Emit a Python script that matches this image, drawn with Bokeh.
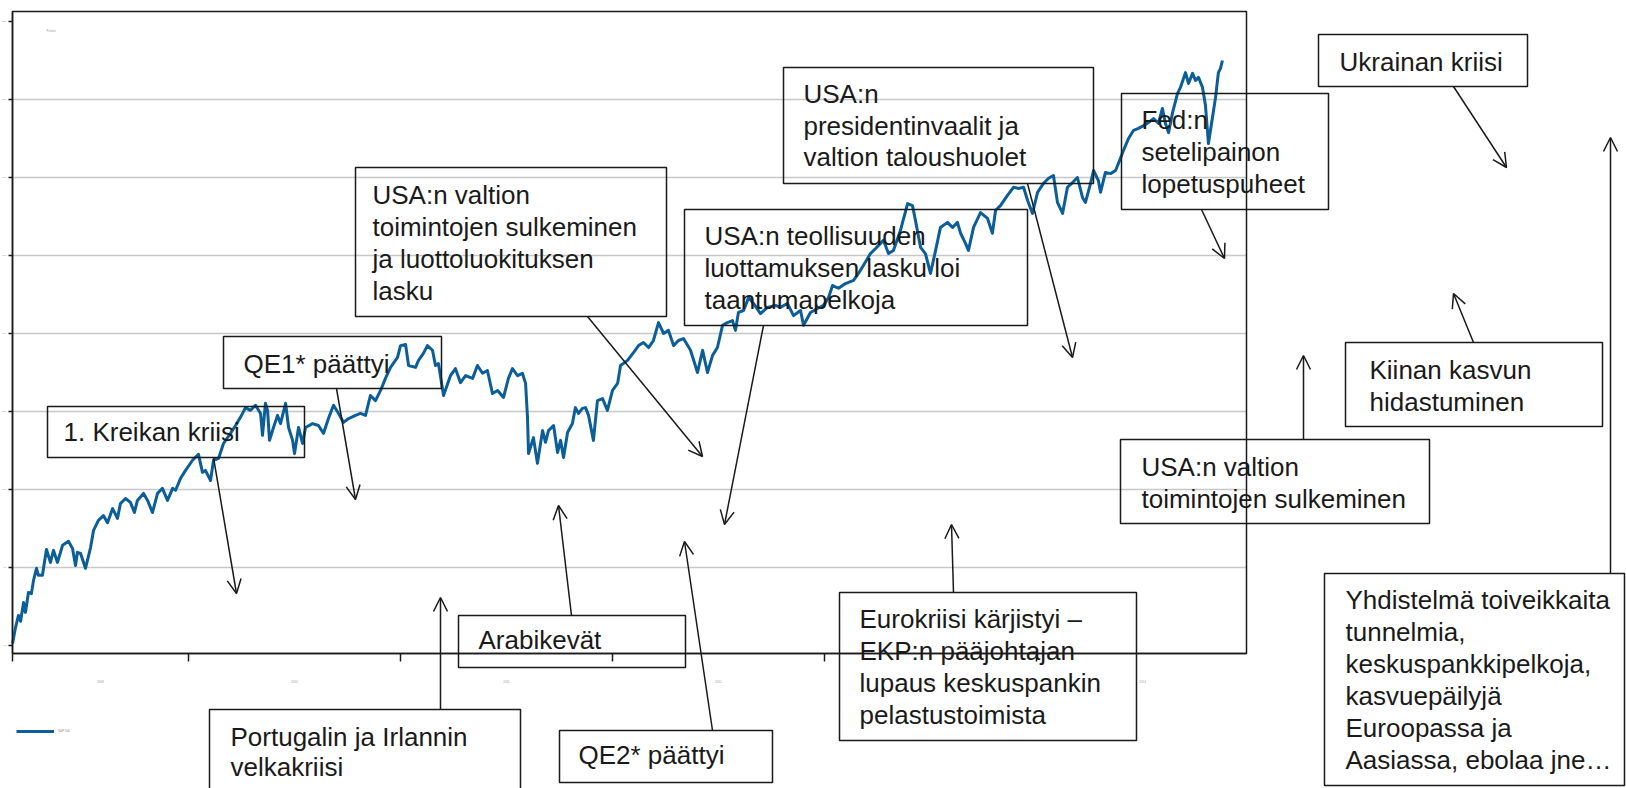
from bokeh.plotting import figure
from bokeh.models import (Range1d, FixedTicker, Label, Arrow, OpenHead, PolyAnnotation,
                          Legend, LegendItem, LinearAxis, Grid)
from bokeh.embed import file_html
from bokeh.resources import INLINE

# ---------------- data (decimal year, index level) ----------------
years = [
    2009.170, 2009.184, 2009.198, 2009.208, 2009.222, 2009.231, 2009.245, 2009.259, 2009.269, 2009.283,
    2009.292, 2009.311, 2009.330, 2009.349, 2009.363, 2009.382, 2009.406, 2009.434, 2009.453, 2009.467,
    2009.476, 2009.491, 2009.514, 2009.538, 2009.552, 2009.575, 2009.599, 2009.618, 2009.642, 2009.665,
    2009.679, 2009.703, 2009.726, 2009.745, 2009.759, 2009.788, 2009.807, 2009.830, 2009.854, 2009.877,
    2009.901, 2009.925, 2009.939, 2009.962, 2009.986, 2010.019, 2010.047, 2010.066, 2010.080, 2010.104,
    2010.118, 2010.142, 2010.165, 2010.198, 2010.222, 2010.245, 2010.269, 2010.292, 2010.316, 2010.340,
    2010.349, 2010.363, 2010.373, 2010.382, 2010.401, 2010.420, 2010.434, 2010.458, 2010.472, 2010.491,
    2010.500, 2010.519, 2010.538, 2010.552, 2010.585, 2010.613, 2010.637, 2010.660, 2010.684, 2010.708,
    2010.731, 2010.755, 2010.788, 2010.811, 2010.835, 2010.858, 2010.882, 2010.906, 2010.929, 2010.953,
    2010.986,
    2011.000, 2011.024, 2011.038, 2011.071, 2011.085, 2011.108, 2011.127, 2011.151, 2011.165, 2011.179,
    2011.203, 2011.236, 2011.259, 2011.283, 2011.307, 2011.340, 2011.363, 2011.387, 2011.410, 2011.434,
    2011.458, 2011.486, 2011.509, 2011.528, 2011.552, 2011.575, 2011.590, 2011.599, 2011.604, 2011.627,
    2011.646, 2011.670, 2011.684, 2011.698, 2011.722, 2011.741, 2011.755, 2011.769, 2011.788, 2011.811,
    2011.825, 2011.840, 2011.858, 2011.873, 2011.887, 2011.910, 2011.929, 2011.953, 2011.976, 2012.000,
    2012.024, 2012.038, 2012.071, 2012.099, 2012.123, 2012.146, 2012.170, 2012.193, 2012.217, 2012.241,
    2012.264, 2012.288, 2012.311, 2012.335, 2012.368, 2012.401, 2012.425, 2012.448, 2012.472, 2012.495,
    2012.519, 2012.542, 2012.566, 2012.580, 2012.594, 2012.618, 2012.642, 2012.665, 2012.698,
    2012.731, 2012.769, 2012.792, 2012.825, 2012.854, 2012.887, 2012.901, 2012.934, 2012.967, 2012.995,
    2013.019, 2013.038, 2013.066, 2013.099, 2013.137, 2013.160, 2013.184, 2013.217, 2013.241, 2013.255,
    2013.278, 2013.302, 2013.325, 2013.358, 2013.392, 2013.415, 2013.429, 2013.453, 2013.476, 2013.500,
    2013.524, 2013.547, 2013.580, 2013.604, 2013.627, 2013.642, 2013.665, 2013.679, 2013.703, 2013.736,
    2013.769, 2013.792, 2013.807, 2013.830, 2013.863, 2013.892, 2013.915, 2013.939, 2013.958, 2013.981,
    2014.005, 2014.033, 2014.057, 2014.080, 2014.099, 2014.123, 2014.146, 2014.170, 2014.193, 2014.217,
    2014.231, 2014.255, 2014.269, 2014.292, 2014.302, 2014.325, 2014.349, 2014.373, 2014.396, 2014.410,
    2014.434, 2014.458, 2014.481, 2014.505, 2014.528, 2014.552, 2014.575, 2014.594, 2014.608, 2014.623,
    2014.642, 2014.665, 2014.679, 2014.703, 2014.717, 2014.736, 2014.750, 2014.764, 2014.783, 2014.797,
    2014.811, 2014.830, 2014.844, 2014.858, 2014.868, 2014.877,
]

index_level = [
    605, 646, 677, 662, 710, 685, 736, 733, 767, 798,
    780, 780, 846, 813, 844, 813, 857, 867, 849, 805,
    839, 836, 798, 851, 895, 921, 933, 915, 951, 926,
    964, 977, 967, 941, 972, 990, 972, 941, 990, 1003,
    972, 1003, 998, 1028, 1049, 1075, 1090, 1044, 1049, 1023,
    1075, 1080, 1118, 1144, 1164, 1185, 1210, 1203, 1216, 1195,
    1139, 1221, 1203, 1126, 1159, 1190, 1169, 1221, 1159, 1126,
    1092, 1159, 1118, 1159, 1169, 1164, 1144, 1182, 1216, 1195,
    1172, 1182, 1190, 1195, 1190, 1241, 1228, 1254, 1285, 1313,
    1339,
    1369, 1372, 1318, 1313, 1331, 1349, 1369, 1357, 1318, 1323,
    1241, 1292, 1310, 1274, 1292, 1285, 1318, 1298, 1305, 1246,
    1254, 1236, 1285, 1310, 1292, 1298, 1272, 1185, 1092, 1133,
    1067, 1151, 1121, 1151, 1164, 1095, 1126, 1082, 1146, 1169,
    1210, 1195, 1208, 1210, 1190, 1126, 1228, 1233, 1203, 1254,
    1272, 1318, 1331, 1351, 1369, 1377, 1364, 1382, 1428, 1400,
    1408, 1369, 1382, 1387, 1357, 1300, 1357, 1300, 1344, 1364,
    1421, 1428, 1433, 1408, 1454, 1459, 1492, 1477, 1451,
    1467, 1472, 1467, 1477, 1446, 1459, 1421, 1454, 1464, 1472,
    1492, 1523, 1516, 1528, 1536, 1554, 1575, 1605, 1618, 1626,
    1639, 1605, 1613, 1664, 1733, 1728, 1690, 1621, 1605, 1554,
    1613, 1672, 1685, 1672, 1685, 1657, 1631, 1613, 1672, 1710,
    1695, 1657, 1716, 1728, 1754, 1775, 1772, 1775, 1741, 1708,
    1762, 1785, 1798, 1805, 1736, 1708, 1775, 1787, 1800, 1749,
    1736, 1785, 1818, 1792, 1762, 1813, 1810, 1818, 1849, 1869,
    1900, 1921, 1926, 1933, 1941, 1951, 1939, 1977, 1939, 1915,
    1967, 2015, 2031, 2069, 2041, 2067, 2049, 2057, 2031, 1985,
    1887, 1954, 2003, 2069, 2080, 2100,
]

y_ticks = [600, 800, 1000, 1200, 1400, 1600, 1800, 2000, 2200]
grid_ticks = [800, 1000, 1200, 1400, 1600, 1800, 2000]
year_labels = ["2009", "2010", "2011", "2012", "2013", "2014"]
year_label_pos = [2009.585, 2010.5, 2011.5, 2012.5, 2013.5, 2014.5]
year_bounds = [2009.17, 2010, 2011, 2012, 2013, 2014]
series_name = "S&P 500"

# ---------------- pixel -> data helpers (annotation layout only) ----------------
def X(px):
    return 2010 + (px - 188) / 212.0

def Y(py):
    return 600 + (645 - py) * 200 / 78.0

INK = "#1a1a1a"
BLUE = "#0B5E98"
FONT = "Liberation Sans"
BASE_FIX = 9   # renderer places alphabetic baseline slightly low

# plot area (axes box) of the chart inside the canvas
PL, PR, PT, PB = 12, 1246, 11, 653

p = figure(width=1626, height=788,
           x_range=Range1d(X(0), X(1626)), y_range=Range1d(Y(788), Y(0)),
           output_backend="svg", toolbar_location=None,
           x_axis_location=None, y_axis_location=None, min_border=0)
p.background_fill_color = "white"
p.border_fill_color = "white"
p.outline_line_color = None
for g in list(p.center):
    if isinstance(g, Grid):
        g.visible = False

# horizontal grid lines inside the plot area
grid_kwargs = dict(dimension=1, ticker=FixedTicker(ticks=grid_ticks),
                   grid_line_color="#C8C8C8", grid_line_width=1.5)
if "cross_bounds" in Grid.properties():
    p.add_layout(Grid(cross_bounds=(X(PL), X(PR)), **grid_kwargs))
else:
    p.segment(x0=[X(PL)] * len(grid_ticks), x1=[X(PR)] * len(grid_ticks),
              y0=grid_ticks, y1=grid_ticks, line_color="#C8C8C8", line_width=1.5)

# plot-area border
p.add_layout(PolyAnnotation(xs=[X(PL), X(PR), X(PR), X(PL)], ys=[Y(PT), Y(PT), Y(PB), Y(PB)],
                            fill_color=None, fill_alpha=0, line_color=INK, line_alpha=1,
                            line_width=1.5, level="underlay"))

# value axis
yax = LinearAxis(fixed_location=X(PL), bounds=(Y(PB), Y(PT)), ticker=FixedTicker(ticks=y_ticks))
yax.major_tick_out = 4
yax.major_tick_in = 0
yax.minor_tick_out = 0
yax.minor_tick_in = 0
yax.major_label_text_font_size = "2px"
yax.major_label_standoff = 2
yax.major_label_text_color = "#999999"
yax.axis_line_color = INK
yax.axis_line_width = 1.5
yax.major_tick_line_color = INK
yax.major_tick_line_width = 1.5
p.add_layout(yax, "left")

# time axis
xax = LinearAxis(fixed_location=Y(PB), bounds=(X(PL), X(PR)),
                 ticker=FixedTicker(ticks=year_label_pos, minor_ticks=year_bounds))
xax.major_label_overrides = {pos: lab for pos, lab in zip(year_label_pos, year_labels)}
xax.major_tick_out = 0
xax.major_tick_in = 0
xax.minor_tick_out = 8
xax.minor_tick_in = 0
xax.minor_tick_line_color = INK
xax.minor_tick_line_width = 1.5
xax.major_label_text_font_size = "3px"
xax.major_label_text_color = "#999999"
xax.major_label_standoff = 18
xax.axis_line_color = INK
xax.axis_line_width = 1.5
p.add_layout(xax, "below")

line_r = p.line(years, index_level, line_width=3, line_color=BLUE, line_join="round")

legend = Legend(items=[LegendItem(label=series_name, renderers=[line_r])],
                location=(16, 52), orientation="horizontal", padding=0, margin=0, spacing=0,
                glyph_width=38, glyph_height=10, label_height=10, label_standoff=4,
                label_text_font_size="3px", label_text_color="#888888",
                border_line_color=None, background_fill_alpha=0)
p.add_layout(legend)

p.add_layout(Label(x=X(46), y=Y(30), text="Pisteet", text_font=FONT, text_font_size="3px",
                   text_color="#999999", text_baseline="middle"))

# ---------------- annotations: box (l, r, t, b), text x, baselines, lines, arrow ----------------
notes = [
    dict(box=(47, 304, 406, 457), tx=63, base=[440], lines=["1. Kreikan kriisi"],
         arrow=((213, 457), (236, 593))),
    dict(box=(223, 441, 336, 388), tx=243, base=[372], lines=["QE1* päättyi"],
         arrow=((336, 388), (355, 499))),
    dict(box=(355, 666, 167, 316), tx=372, base=[203, 235, 267, 299],
         lines=["USA:n valtion", "toimintojen sulkeminen", "ja luottoluokituksen", "lasku"],
         arrow=((587, 316), (702, 456))),
    dict(box=(684, 1027, 209, 325), tx=704, base=[244, 276, 308],
         lines=["USA:n teollisuuden", "luottamuksen lasku loi", "taantumapelkoja"],
         arrow=((763, 325), (724, 524))),
    dict(box=(783, 1093, 67, 183), tx=803, base=[102, 134, 165],
         lines=["USA:n", "presidentinvaalit ja", "valtion taloushuolet"],
         arrow=((1027, 183), (1072, 357))),
    dict(box=(1121, 1328, 93, 209), tx=1141, base=[128, 160, 192],
         lines=["Fed:n", "setelipainon", "lopetuspuheet"],
         arrow=((1201, 209), (1224, 258))),
    dict(box=(1318, 1527, 34, 86), tx=1339, base=[70], lines=["Ukrainan kriisi"],
         arrow=((1453, 86), (1506, 167))),
    dict(box=(1345, 1602, 342, 426), tx=1369, base=[378, 410],
         lines=["Kiinan kasvun", "hidastuminen"],
         arrow=((1473, 342), (1453, 293))),
    dict(box=(1120, 1429, 439, 523), tx=1141, base=[475, 507],
         lines=["USA:n valtion", "toimintojen sulkeminen"],
         arrow=((1303, 439), (1303, 355))),
    dict(box=(1324, 1624, 573, 785), tx=1345, base=[608, 640, 672, 704, 736, 768],
         lines=["Yhdistelmä toiveikkaita", "tunnelmia,", "keskuspankkipelkoja,",
                "kasvuepäilyjä", "Euroopassa ja", "Aasiassa, ebolaa jne…"],
         arrow=((1610, 573), (1610, 137))),
    dict(box=(839, 1136, 592, 740), tx=859, base=[627, 659, 691, 723],
         lines=["Eurokriisi kärjistyi –", "EKP:n pääjohtajan", "lupaus keskuspankin",
                "pelastustoimista"],
         arrow=((953, 592), (951, 524))),
    dict(box=(458, 685, 615, 667), tx=478, base=[648], lines=["Arabikevät"],
         arrow=((571, 615), (558, 505))),
    dict(box=(209, 520, 709, 800), tx=230, base=[745, 775],
         lines=["Portugalin ja Irlannin", "velkakriisi"],
         arrow=((440, 709), (440, 597))),
    dict(box=(559, 772, 730, 782), tx=578, base=[763], lines=["QE2* päättyi"],
         arrow=((712, 730), (684, 541))),
]

for n in notes:
    l, r, t, b = n["box"]
    p.add_layout(PolyAnnotation(xs=[X(l), X(r), X(r), X(l)], ys=[Y(t), Y(t), Y(b), Y(b)],
                                fill_color=None, fill_alpha=0, line_color=INK, line_alpha=1,
                                line_width=1.5))
    for txt, bl in zip(n["lines"], n["base"]):
        p.add_layout(Label(x=X(n["tx"]), y=Y(bl - BASE_FIX), text=txt, text_font=FONT,
                           text_font_size="26px", text_color=INK,
                           text_align="left", text_baseline="alphabetic"))
    (sx, sy), (ex, ey) = n["arrow"]
    p.add_layout(Arrow(x_start=X(sx), y_start=Y(sy), x_end=X(ex), y_end=Y(ey),
                       line_color=INK, line_width=1.5,
                       end=OpenHead(size=14, line_color=INK, line_width=1.5)))

open("out.html", "w").write(file_html(p, INLINE))
